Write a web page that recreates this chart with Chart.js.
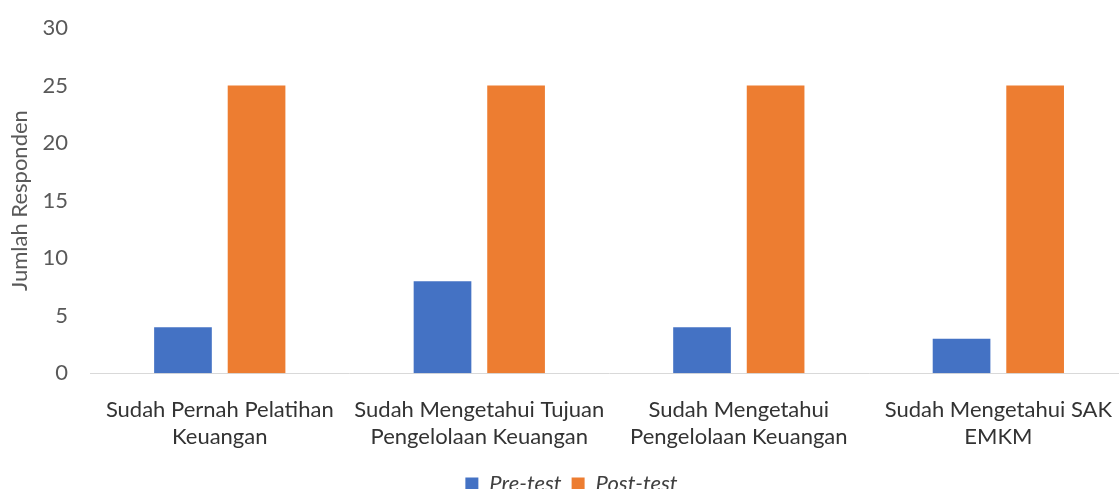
<!DOCTYPE html>
<html>
<head>
<meta charset="utf-8">
<script src="https://cdn.jsdelivr.net/npm/chart.js@4/dist/chart.umd.min.js"></script>
<style>
  html, body { margin: 0; padding: 0; background: #fff; overflow: hidden; }
  #wrap { width: 1136px; height: 505px; }
</style>
</head>
<body>
<div id="wrap"><canvas id="chart"></canvas></div>
<script>
const categories = [
  ['Sudah Pernah Pelatihan', 'Keuangan'],
  ['Sudah Mengetahui Tujuan', 'Pengelolaan Keuangan'],
  ['Sudah Mengetahui', 'Pengelolaan Keuangan'],
  ['Sudah Mengetahui SAK', 'EMKM']
];
const preTest = [4, 8, 4, 3];
const postTest = [25, 25, 25, 25];
const seriesNames = ['Pre-test', 'Post-test'];
const yTitle = 'Jumlah Responden';

const font = 'Lato, "Liberation Sans", sans-serif';

new Chart(document.getElementById('chart').getContext('2d'), {
  type: 'bar',
  data: {
    labels: categories,
    datasets: [
      { label: seriesNames[0], data: preTest, backgroundColor: '#4472C4' },
      { label: seriesNames[1], data: postTest, backgroundColor: '#ED7D31' }
    ]
  },
  options: {
    responsive: true,
    maintainAspectRatio: false,
    animation: false,
    layout: { padding: { left: 7, right: 0, top: 28, bottom: 0 } },
    datasets: {
      bar: { categoryPercentage: 0.567, barPercentage: 0.784 }
    },
    plugins: {
      legend: {
        position: 'bottom',
        labels: {
          boxWidth: 13, boxHeight: 13, padding: 10,
          color: '#404040',
          font: { family: font, size: 22, style: 'italic' }
        }
      },
      tooltip: { enabled: false }
    },
    scales: {
      x: {
        afterFit: (scale) => { scale.height -= 11; },
        grid: { display: false, drawTicks: false },
        border: { color: '#d9d9d9', width: 1 },
        ticks: {
          color: '#333333', padding: 24, maxRotation: 0,
          font: { family: font, size: 22, lineHeight: 1.2 }
        }
      },
      y: {
        min: 0, max: 30,
        afterFit: (scale) => {
          scale.width = 83;
          scale.paddingTop = 13;
          scale.paddingBottom = 13;
        },
        grid: { display: false, drawTicks: false },
        border: { display: false },
        ticks: {
          stepSize: 5, color: '#595959', padding: 22,
          font: { family: font, size: 22 }
        },
        title: {
          display: true, text: yTitle, color: '#595959', padding: { top: 0, bottom: 10 },
          font: { family: font, size: 22 }
        }
      }
    }
  }
});
</script>
</body>
</html>
